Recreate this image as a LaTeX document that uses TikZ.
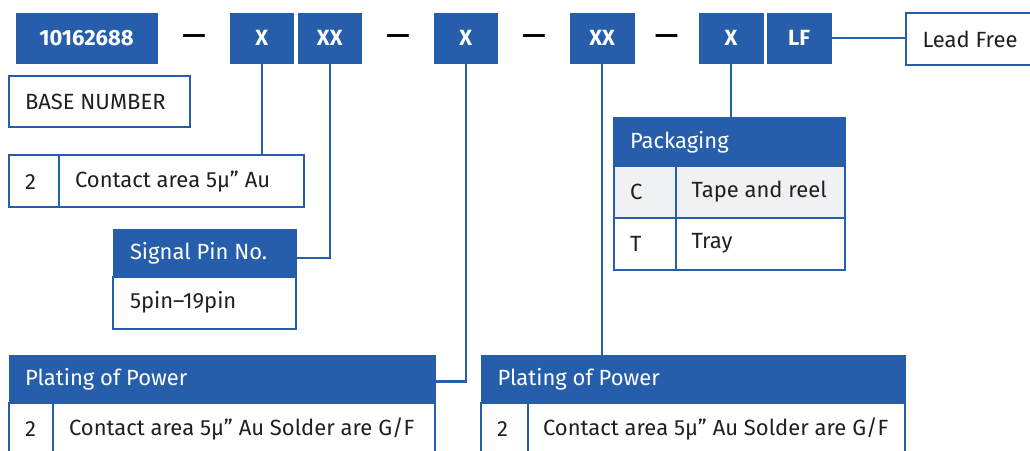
\documentclass[tikz,border=0pt]{standalone}
\usepackage{fontspec}
\setmainfont{Fira Sans}
\definecolor{mblue}{RGB}{38,94,172}
\definecolor{mtext}{RGB}{35,31,32}
\definecolor{mgray}{RGB}{240,241,243}
\newcommand{\wdash}{\scalebox{1.2}[1]{—}}
\begin{document}
\begin{tikzpicture}[x=1pt,y=-1pt,
  every node/.style={inner sep=0pt,outer sep=0pt},
  topbox/.style={fill=mblue,draw=white,line width=0.5pt,anchor=north west,font=\fontsize{22}{26}\selectfont\bfseries,text=white},
  wbox/.style={draw=mblue,line width=2pt,fill=white,anchor=north west},
  hbox/.style={fill=mblue,draw=mblue,line width=1pt,anchor=north west},
  txt/.style={anchor=west,font=\fontsize{22}{26}\selectfont,text=mtext},
  htxt/.style={anchor=west,font=\fontsize{22}{26}\selectfont,text=white},
  dashtxt/.style={font=\fontsize{24}{26}\selectfont\bfseries,text=black},
  conn/.style={draw=mblue,line width=2.5pt}]
\useasboundingbox (0,0) rectangle (1030,450);
\clip (0,0) rectangle (1030,450);

\coordinate (c2) at (330,258);
\coordinate (c3) at (464,381.5);

% top row
\node[topbox,minimum width=143,minimum height=52] (base) at (15,12) {10162688};
\node[dashtxt] (d1) at (194,39.5) {\wdash};
\node[topbox,minimum width=65.5,minimum height=52] (x1) at (229,12) {X};
\node[topbox,minimum width=65.5,minimum height=52] (xx1) at (297,12) {XX};
\node[dashtxt] (d2) at (398,39.5) {\wdash};
\node[topbox,minimum width=65.5,minimum height=52] (x2) at (433,12) {X};
\node[dashtxt] (d3) at (534,39.5) {\wdash};
\node[topbox,minimum width=65.5,minimum height=52] (xx2) at (569.3,12) {XX};
\node[dashtxt] (d4) at (666.5,39.5) {\wdash};
\node[topbox,minimum width=65.5,minimum height=52] (x3) at (698.3,12) {X};
\node[topbox,minimum width=65.5,minimum height=52] (lf) at (766.3,12) {LF};

% Lead Free
\node[wbox,minimum width=140,minimum height=52] (leadfree) at (906,13) {};
\node[txt] (leadfreet) at (922.5,39) {Lead Free};

% Base number
\node[wbox,minimum width=181,minimum height=51] (basenum) at (9,76) {};
\node[txt] (basenumt) at (25,102) {BASE NUMBER};

% Contact area 5u Au
\node[wbox,minimum width=295,minimum height=52] (ca) at (9,155) {};
\draw[mblue,line width=2pt] (59.3,155) -- (59.3,207);
\node[txt] (ca2) at (25,182) {2};
\node[txt] (cat) at (75,182) {Contact area 5µ” Au};

% Signal Pin
\node[hbox,minimum width=183,minimum height=47] (sph) at (113,229.5) {};
\node[htxt] (spht) at (130,253) {Signal Pin No.};
\node[wbox,minimum width=183,minimum height=52.5] (spb) at (113,276.5) {};
\node[txt] (spbt) at (130,302.5) {5pin–19pin};

% Packaging
\node[hbox,minimum width=231.5,minimum height=48.5] (pkh) at (613.5,117.5) {};
\node[htxt] (pkht) at (630,142) {Packaging};
\node[wbox,fill=mgray,minimum width=231.5,minimum height=51.5] (pkc) at (613.5,166) {};
\node[wbox,minimum width=231.5,minimum height=52] (pkt) at (613.5,217.5) {};
\draw[mblue,line width=2pt] (676,166) -- (676,269.5);
\node[txt] (pkct) at (630,192) {C};
\node[txt] (pkctt) at (691.5,192) {Tape and reel};
\node[txt] (pktt) at (630,243.5) {T};
\node[txt] (pkttt) at (691.5,243.5) {Tray};

% Plating of Power left
\node[hbox,minimum width=426,minimum height=47.5] (pl1h) at (9,355) {};
\node[htxt] (pl1ht) at (25,379.5) {Plating of Power};
\node[wbox,minimum width=426,minimum height=60] (pl1b) at (9,402.5) {};
\draw[mblue,line width=2pt] (53.3,402.5) -- (53.3,462);
\node[txt] (pl12) at (25,429) {2};
\node[txt] (pl1t) at (69,429) {Contact area 5µ” Au Solder are G/F};

% Plating of Power right
\node[hbox,minimum width=424,minimum height=47.5] (pl2h) at (481,355) {};
\node[htxt] (pl2ht) at (497.5,379.5) {Plating of Power};
\node[wbox,minimum width=424,minimum height=60] (pl2b) at (481,402.5) {};
\draw[mblue,line width=2pt] (527.7,402.5) -- (527.7,462);
\node[txt] (pl22) at (497,429) {2};
\node[txt] (pl2t) at (543,429) {Contact area 5µ” Au Solder are G/F};

% connectors
\draw[conn] (x1.south) -- (x1.south |- ca.north);
\draw[conn] (xx1.south) -- (xx1.south |- c2) -- (sph.east |- c2);
\draw[conn] (x2.south) -- (x2.south |- c3) -- (pl1h.east |- c3);
\draw[conn] (xx2.south) -- (xx2.south |- pl2h.north);
\draw[conn] (x3.south) -- (x3.south |- pkh.north);
\draw[conn] (lf.east) -- (leadfree.west |- lf.east);
\end{tikzpicture}
\end{document}
